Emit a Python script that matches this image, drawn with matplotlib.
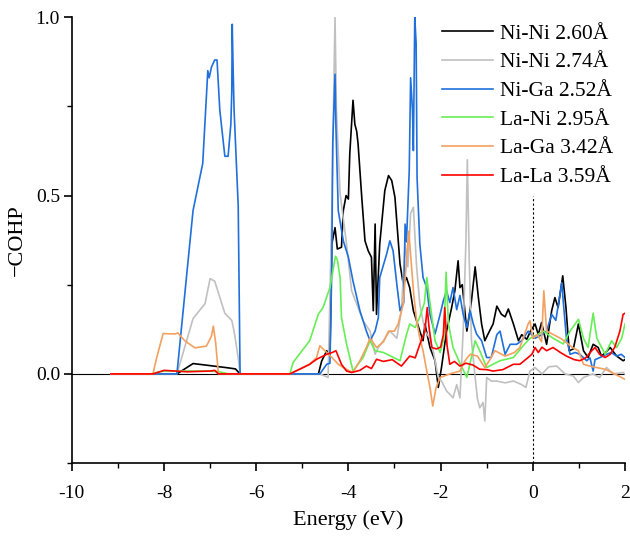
import matplotlib
matplotlib.use("Agg")
from matplotlib import pyplot as plt
from matplotlib.ticker import MultipleLocator

plt.rcParams['font.family'] = ['Liberation Serif', 'DejaVu Serif']
plt.rcParams['axes.unicode_minus'] = False

# COHP curves, energy relative to E_F (eV)
e_nini1 = [-9.15, -7.72, -7.37, -7.11, -6.61, -6.45, -6.35, -4.65, -4.58, -4.47, -4.40, -4.36, -4.29, -4.24,
           -4.15, -4.11, -4.05, -4.00, -3.97, -3.90, -3.86, -3.82, -3.79, -3.71, -3.64, -3.57, -3.50, -3.46,
           -3.42, -3.39, -3.32, -3.21, -3.13, -3.06, -2.99, -2.88, -2.81, -2.74, -2.67, -2.59, -2.45, -2.38,
           -2.34, -2.23, -2.12, -2.05, -1.98, -1.87, -1.76, -1.69, -1.62, -1.58, -1.53, -1.43, -1.33, -1.25,
           -1.18, -1.11, -1.04, -0.97, -0.86, -0.78, -0.68, -0.60, -0.53, -0.42, -0.31, -0.24, -0.13, -0.05,
           0.05, 0.12, 0.19, 0.30, 0.41, 0.48, 0.55, 0.65, 0.72, 0.79, 0.88, 0.99, 1.10, 1.20, 1.31, 1.42,
           1.49, 1.58, 1.68, 1.82, 1.96, 2.0]
c_nini1 = [0, 0, 0.029, 0.025, 0.017, 0.014, 0, 0, 0.036, 0.065, 0.05, 0.364, 0.41, 0.35,
           0.355, 0.458, 0.50, 0.49, 0.617, 0.767, 0.70, 0.68, 0.645, 0.495, 0.373, 0.345, 0.327, 0.177,
           0.42, 0.167, 0.364, 0.514, 0.556, 0.542, 0.495, 0.308, 0.252, 0.27, 0.242, 0.177, 0.12, 0.093,
           0.14, 0.074, 0.037, -0.038, 0.018, 0.12, 0.186, 0.233, 0.317, 0.242, 0.25, 0.12, 0.205, 0.30,
           0.214, 0.14, 0.093, 0.112, 0.14, 0.19, 0.167, 0.16, 0.182, 0.14, 0.093, 0.11, 0.097, 0.12,
           0.14, 0.11, 0.144, 0.083, 0.177, 0.214, 0.186, 0.275, 0.186, 0.065, 0.07, 0.14, 0.065, 0.046, 0.083, 0.074,
           0.05, 0.06, 0.074, 0.05, 0.037, 0.04]

e_nini2 = [-9.15, -7.72, -7.37, -7.11, -7.0, -6.90, -6.68, -6.53, -6.48, -6.39, -6.35, -4.62, -4.44, -4.36,
           -4.31, -4.29, -4.26, -4.18, -4.04, -3.93, -3.82, -3.68, -3.53, -3.42, -3.35, -3.24, -3.10, -2.95,
           -2.85, -2.77, -2.71, -2.65, -2.59, -2.52, -2.45, -2.34, -2.23, -2.16, -2.05, -1.98, -1.87, -1.80,
           -1.73, -1.65, -1.58, -1.51, -1.45, -1.42, -1.38, -1.33, -1.25, -1.20, -1.15, -1.08, -1.04, -1.0,
           -0.90, -0.78, -0.60, -0.42, -0.24, -0.15, -0.06, 0.05, 0.20, 0.35, 0.52, 0.70, 0.88, 0.99, 1.10,
           1.30, 1.45, 1.60, 1.75, 1.96, 2.0]
c_nini2 = [0, 0, 0.155, 0.197, 0.267, 0.26, 0.17, 0.15, 0.12, 0.045, 0, 0, -0.01, 0.45,
           0.85, 1.0, 0.74, 0.505, 0.364, 0.233, 0.196, 0.149, 0.12, 0.055, 0.074, 0.093, 0.12, 0.10,
           0.177, 0.364, 0.30, 0.45, 0.467, 0.30, 0.196, 0.12, 0.10, 0.065, -0.01, -0.02, -0.048, -0.057,
           -0.067, -0.03, -0.067, 0.12, 0.373, 0.60, 0.327, 0.093, -0.01, -0.07, -0.095, -0.08, -0.132, -0.01,
           -0.02, -0.02, -0.025, -0.02, -0.03, -0.038, 0.008, 0.018, 0.0, 0.02, 0.022, 0.0, -0.006, -0.024, -0.01,
           0.0, -0.01, 0.018, 0.0, 0.004, 0.0]

e_niga = [-9.15, -7.72, -7.37, -7.16, -7.05, -7.02, -6.97, -6.90, -6.85, -6.79, -6.68, -6.61, -6.55, -6.53,
          -6.52, -6.50, -6.48, -6.39, -6.35, -4.62, -4.47, -4.40, -4.36, -4.34, -4.29, -4.27, -4.22, -4.11,
          -4.00, -3.90, -3.75, -3.61, -3.53, -3.42, -3.35, -3.32, -3.17, -3.10, -3.03, -2.95, -2.88, -2.80,
          -2.77, -2.74, -2.68, -2.65, -2.61, -2.59, -2.56, -2.53, -2.51, -2.45, -2.38, -2.30, -2.23, -2.12,
          -2.01, -1.94, -1.87, -1.80, -1.73, -1.65, -1.58, -1.51, -1.43, -1.36, -1.29, -1.22, -1.11, -1.00,
          -0.90, -0.78, -0.71, -0.60, -0.49, -0.35, -0.24, -0.10, 0.05, 0.20, 0.30, 0.41, 0.50, 0.63, 0.66,
          0.73, 0.81, 0.92, 1.02, 1.17, 1.24, 1.31, 1.35, 1.46, 1.60, 1.70, 1.82, 1.92, 2.0]
c_niga = [0, 0, 0.458, 0.59, 0.85, 0.83, 0.86, 0.88, 0.88, 0.74, 0.61, 0.61, 0.70, 0.79,
          0.98, 0.85, 0.74, 0.47, 0, 0, 0.027, 0.03, 0.30, 0.645, 0.84, 0.69, 0.458, 0.373,
          0.327, 0.26, 0.177, 0.12, 0.093, 0.12, 0.158, 0.27, 0.336, 0.373, 0.345, 0.252, 0.177, 0.2,
          0.42, 0.37, 0.57, 0.83, 0.74, 0.626, 1.0, 0.926, 0.55, 0.364, 0.27, 0.242, 0.167, 0.112,
          0.167, 0.205, 0.233, 0.20, 0.242, 0.18, 0.22, 0.167, 0.13, 0.177, 0.14, 0.112, 0.093, 0.046,
          0.046, 0.11, 0.12, 0.055, 0.083, 0.083, 0.093, 0.12, 0.10, 0.11, 0.12, 0.167, 0.15, 0.256, 0.205,
          0.10, 0.055, 0.06, 0.055, 0.037, 0.045, 0.008, 0.04, 0.046, 0.055, 0.06, 0.05, 0.055, 0.046]

e_lani = [-9.15, -8.3, -8.0, -7.0, -6.8, -6.6, -5.27, -5.20, -4.84, -4.65, -4.55, -4.40, -4.28, -4.24,
          -4.18, -4.15, -4.04, -3.90, -3.68, -3.53, -3.42, -3.24, -2.88, -2.74, -2.67, -2.55, -2.45, -2.35,
          -2.30, -2.23, -2.12, -2.01, -1.93, -1.88, -1.83, -1.73, -1.58, -1.43, -1.25, -1.15, -1.00, -0.71,
          -0.42, -0.20, -0.06, 0.10, 0.23, 0.44, 0.66, 0.81, 0.99, 1.10, 1.20, 1.31, 1.39, 1.57, 1.71,
          1.82, 1.93, 2.0]
c_lani = [0, 0, 0.008, 0.008, 0.006, 0, 0, 0.032, 0.093, 0.168, 0.186, 0.242, 0.33, 0.32,
          0.27, 0.158, 0.084, 0.008, 0.046, 0.093, 0.065, 0.06, 0.037, 0.11, 0.14, 0.13, 0.16, 0.20,
          0.27, 0.20, 0.093, 0.06, 0.10, 0.285, 0.14, 0.074, 0.03, -0.01, 0.093, 0.065, 0.018, 0.037,
          0.046, 0.08, 0.10, 0.11, 0.12, 0.10, 0.084, 0.12, 0.153, 0.10, 0.074, 0.17, 0.10, 0.055, 0.093,
          0.074, 0.10, 0.14]

e_laga = [-9.15, -8.24, -8.16, -8.02, -7.76, -7.70, -7.55, -7.33, -7.08, -6.97, -6.93, -6.88, -6.82, -5.27,
          -4.84, -4.69, -4.62, -4.47, -4.35, -4.22, -4.11, -3.97, -3.90, -3.75, -3.61, -3.53, -3.39, -3.24,
          -3.13, -3.00, -2.92, -2.81, -2.74, -2.69, -2.64, -2.58, -2.52, -2.45, -2.38, -2.30, -2.23, -2.17,
          -2.10, -2.01, -1.80, -1.58, -1.47, -1.36, -1.20, -1.04, -0.93, -0.82, -0.60, -0.40, -0.28, -0.10,
          -0.06, 0.00, 0.10, 0.19, 0.24, 0.30, 0.45, 0.60, 0.73, 0.85, 0.99, 1.10, 1.30, 1.57, 1.70, 1.82, 2.0]
c_laga = [0, 0, 0.045, 0.113, 0.112, 0.115, 0.093, 0.073, 0.078, 0.106, 0.134, 0.088, 0, 0,
          0.027, 0.046, 0.079, 0.06, 0.045, 0.027, 0.018, 0.008, 0.005, 0.037, 0.074, 0.10, 0.074, 0.09,
          0.12, 0.12, 0.14, 0.196, 0.317, 0.40, 0.317, 0.22, 0.149, 0.10, 0.065, 0.008, -0.038, -0.09,
          -0.04, -0.01, 0.0, 0.008, 0.037, 0.055, 0.05, 0.018, 0.04, 0.065, 0.05, 0.06, 0.074, 0.14,
          0.149, 0.10, 0.11, 0.09, 0.233, 0.12, 0.11, 0.10, 0.088, 0.075, 0.065, 0.027, 0.02, 0.013, 0.005, -0.003, -0.015]

e_lala = [-9.15, -8.24, -8.0, -7.5, -7.0, -6.9, -6.82, -5.27, -4.98, -4.84, -4.69, -4.47, -4.35, -4.27,
          -4.15, -4.04, -3.93, -3.75, -3.61, -3.50, -3.39, -3.24, -3.05, -2.85, -2.67, -2.55, -2.45, -2.34,
          -2.29, -2.25, -2.19, -2.09, -2.00, -1.94, -1.91, -1.86, -1.80, -1.70, -1.58, -1.45, -1.30, -1.15,
          -1.00, -0.86, -0.65, -0.42, -0.28, -0.10, -0.02, 0.05, 0.12, 0.20, 0.30, 0.44, 0.60, 0.73, 0.90,
          1.02, 1.15, 1.28, 1.35, 1.45, 1.57, 1.68, 1.78, 1.89, 1.96, 2.0]
c_lala = [0, 0, 0.01, 0.006, 0.008, 0.01, 0, 0, 0.018, 0.027, 0.041, 0.055, 0.06, 0.065,
          0.027, 0.008, 0.004, 0.01, 0.022, 0.015, 0.041, 0.035, 0.04, 0.022, 0.05, 0.045, 0.083, 0.12,
          0.186, 0.13, 0.074, 0.07, 0.075, 0.11, 0.186, 0.08, 0.027, 0.035, 0.022, 0.03, 0.025, 0.013,
          0.012, 0.008, 0.012, 0.027, 0.027, 0.046, 0.055, 0.074, 0.06, 0.075, 0.065, 0.074, 0.06, 0.05, 0.04,
          0.037, 0.045, 0.065, 0.074, 0.055, 0.046, 0.055, 0.075, 0.12, 0.167, 0.17]

labels = ['Ni-Ni 2.60Å', 'Ni-Ni 2.74Å', 'Ni-Ga 2.52Å', 'La-Ni 2.95Å', 'La-Ga 3.42Å', 'La-La 3.59Å']
colors = ['#000000', '#c0c0c0', '#2070dc', '#66ee55', '#f4a060', '#ff0000']
curves = [(e_nini1, c_nini1), (e_nini2, c_nini2), (e_niga, c_niga),
          (e_lani, c_lani), (e_laga, c_laga), (e_lala, c_lala)]

fig = plt.figure(figsize=(6.3, 5.36), dpi=100)
ax = fig.add_axes([0.114, 0.136, 0.878, 0.832])

ax.axhline(0, color='black', lw=0.8, zorder=1)
# Fermi level marker
ax.plot([0, 0], [-0.25, 0.5], color='black', lw=0.8, linestyle=(0, (2, 2)), zorder=1)

for (e, c), lab, col in zip(curves, labels, colors):
    ax.plot(e, c, color=col, lw=1.2, label=lab, zorder=2)

ax.set_xlim(-10, 2)
ax.set_ylim(-0.25, 1.0)
ax.xaxis.set_major_locator(MultipleLocator(2))
ax.xaxis.set_minor_locator(MultipleLocator(1))
ax.yaxis.set_major_locator(MultipleLocator(0.5))
ax.yaxis.set_minor_locator(MultipleLocator(0.25))
ax.tick_params(which='major', direction='out', length=6, width=1.2, labelsize=14)
ax.tick_params(axis='x', which='major', pad=10)
ax.tick_params(axis='y', which='major', pad=2.5)
ax.tick_params(which='minor', direction='out', length=3.5, width=1.0)
ax.spines['top'].set_visible(False)
ax.spines['right'].set_visible(False)
ax.spines['left'].set_linewidth(1.2)
ax.spines['bottom'].set_linewidth(1.2)

ax.set_xlabel('Energy (eV)', fontsize=16, labelpad=6)
ax.set_ylabel('\u2212COHP', fontsize=16, labelpad=6)

ax.legend(loc='upper right', bbox_to_anchor=(0.99, 1.0), frameon=False, fontsize=15.5,
          handlelength=2.4, handletextpad=0.3, labelspacing=0.4, borderaxespad=0, borderpad=0.3)

fig.savefig('out.png', dpi=100)
